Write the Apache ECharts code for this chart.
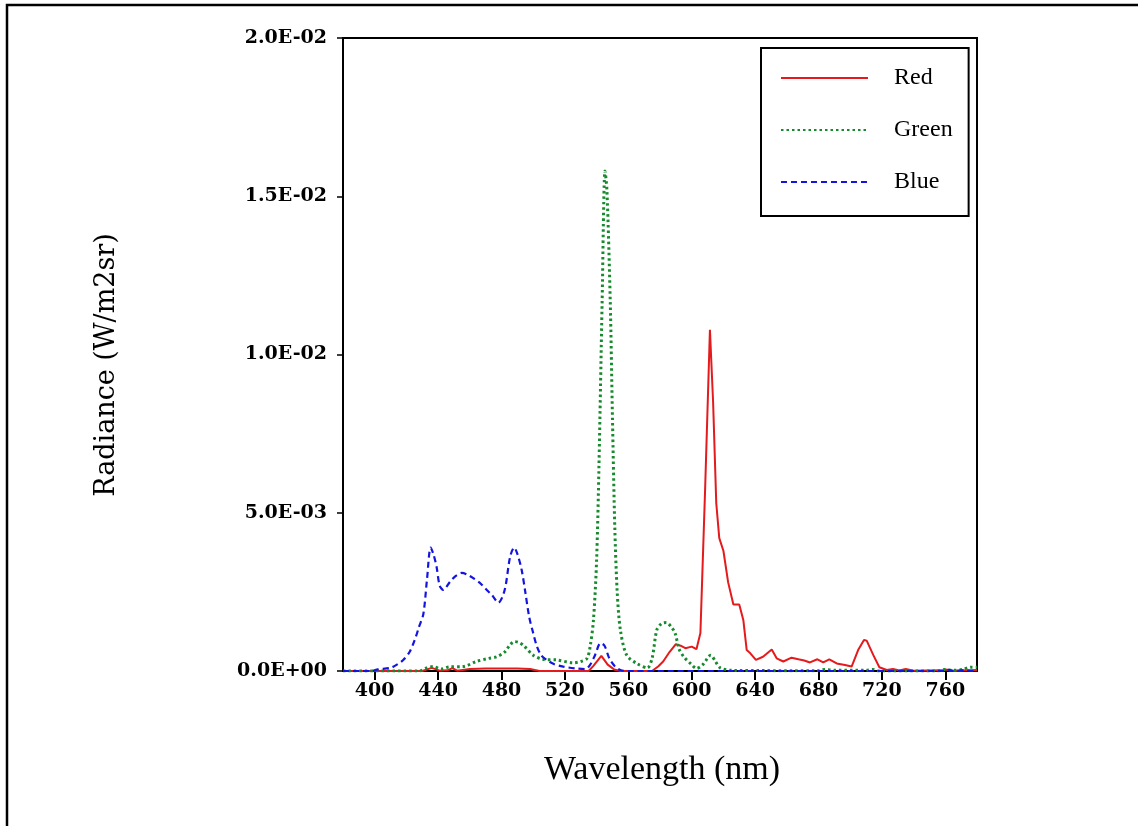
<!DOCTYPE html>
<html>
<head>
<meta charset="utf-8">
<script src="https://cdn.jsdelivr.net/npm/echarts@6/dist/echarts.min.js"></script>
<style>
html,body{margin:0;padding:0;background:#fff;}
#main{width:1138px;height:826px;}
</style>
</head>
<body>
<div id="main"></div>
<script type="text/javascript">
	// 红色通道
	var redX = [380,430,436,441,446,449,452,460,470,490,498,504,535,538,543,547,551,555,575,579,582,586,590,593,596,600,603,605.5,608.5,611.5,613.5,615.5,617.4,620,623,626.3,630,632.6,634.7,637,640.5,645,650.5,653.6,657.8,663,667.3,671,674.6,679.3,683,686.8,691.5,696.7,700.9,705,708.7,710.4,714.6,718.4,723,727,731,735,740,758,760,765,780];
	var redY = [0,0,0.0001,0.00001,0.00002,0.00009,0.00001,0.00006,0.00008,0.00008,0.00006,0,0,0.00016,0.00048,0.0002,0.00005,0,0,0.00015,0.0003,0.0006,0.00085,0.0008,0.00072,0.00077,0.00069,0.0012,0.0058,0.01078,0.0085,0.0053,0.0042,0.0038,0.0028,0.0021,0.0021,0.0016,0.00066,0.00056,0.00035,0.00045,0.00068,0.0004,0.0003,0.00042,0.00037,0.00033,0.00027,0.00037,0.00027,0.00037,0.00024,0.00019,0.00014,0.00066,0.00098,0.00096,0.0005,0.00012,0.00003,0.00006,0.00002,0.00006,0.00001,0.00002,0.00005,0.00001,0.00003];

	// 绿色通道
	var greenX = [380,428,433,437,442,447,456,464,472,477,482,485,488,491,494,500,506,515,525,530,534,536,538,540,541.5,543.5,545.3,546.5,548.6,550,551.5,553,555,559,565.6,572,575,578,581,584,587,589.5,592,595,600,603,607,612,615,618,625,680,684,690,710,714,718,755,760,765,771,776,780];
	var greenY = [0,0,0.0001,0.00014,0.00006,0.00013,0.00014,0.0003,0.0004,0.00045,0.0006,0.0008,0.00093,0.0009,0.0008,0.0005,0.00037,0.00035,0.00026,0.0003,0.0004,0.0008,0.0016,0.0035,0.0065,0.0117,0.0158,0.0152,0.0117,0.0080,0.0045,0.0025,0.0013,0.0005,0.00023,0.0001,0.0004,0.0013,0.0015,0.00153,0.0014,0.0012,0.0007,0.00045,0.0002,0.00008,0.0002,0.0005,0.0003,0.0001,0.00002,0.00001,0.00005,0.00002,0.00002,0.00005,0,0,0.00005,0.00002,0.00005,0.00012,0.00012];

	// 蓝色通道
	var blueX = [380,398,402,410,414,418,422,425.4,428,430.7,433,435.3,437,439,441,443.3,447.5,451,455,459,462.3,466,470.7,474,478,482,485.4,488,490,492.7,495,497.5,500,502.2,505,508.5,513,519,527,533,536,539,542.5,545,548,551.5,555,560,760,762,765,773,776,780];
	var blueY = [0,0,0.00005,0.0001,0.0002,0.00035,0.0006,0.001,0.0014,0.0018,0.0029,0.0039,0.0037,0.0033,0.0027,0.00256,0.00282,0.003,0.0031,0.00303,0.00293,0.0028,0.00256,0.0024,0.00216,0.00256,0.0036,0.0039,0.0037,0.0032,0.0025,0.0017,0.0012,0.0008,0.0005,0.00035,0.00022,0.00014,0.00008,0.00006,0.0002,0.0005,0.00088,0.0008,0.0004,0.00015,0.00003,0,0,0.00004,0,0.00003,0,0];

	// 刻度
	var xTicks = [400,440,480,520,560,600,640,680,720,760];
	var yTickLabels = ['0.0E+00','5.0E-03','1.0E-02','1.5E-02','2.0E-02'];

	function zip(xs,ys){
		return xs.map(function(x,i){return [x,ys[i]];});
	}

	var myChart = echarts.init(document.getElementById('main'));

	var option = {
		animation:false,
		backgroundColor:'#fff',
		grid:{
			left:343,top:38,right:161,bottom:155,
			show:true,borderColor:'#000',borderWidth:2,backgroundColor:'transparent'
		},
		legend:{
			orient:'vertical',
			left:761,top:48,
			padding:[18,16,22,19],
			borderColor:'#000',borderWidth:2,
			itemWidth:87,itemHeight:14,itemGap:28,
			itemStyle:{opacity:0},
			data:['Red','Green','Blue'],
			textStyle:{fontFamily:'Liberation Serif',fontSize:24,color:'#000',padding:[0,0,0,21]}
		},
		xAxis:{
			type:'value',min:380,max:780,
			splitLine:{show:false},
			axisLine:{show:true,onZero:false,lineStyle:{color:'#000',width:2}},
			axisTick:{show:true,length:9,lineStyle:{color:'#000',width:2},customValues:xTicks},
			axisLabel:{margin:11,fontFamily:'DejaVu Serif',fontWeight:'bold',fontSize:19,color:'#000',customValues:xTicks}
		},
		yAxis:{
			type:'value',min:0,max:0.02,interval:0.005,
			splitLine:{show:false},
			axisLine:{show:true,lineStyle:{color:'#000',width:2}},
			axisTick:{show:true,length:6,lineStyle:{color:'#000',width:1.5}},
			axisLabel:{
				margin:16,fontFamily:'DejaVu Serif',fontWeight:'bold',fontSize:19,color:'#000',
				formatter:function(v){return yTickLabels[Math.round(v/0.005)];}
			}
		},
		series:[
			{
				name:'Red',type:'line',symbol:'none',data:zip(redX,redY),
				lineStyle:{color:'#e41a1c',width:2},itemStyle:{color:'#e41a1c'}
			},
			{
				name:'Green',type:'line',symbol:'none',smooth:0.3,data:zip(greenX,greenY),
				lineStyle:{color:'#168a2c',width:3,type:[2.5,3]},itemStyle:{color:'#168a2c'}
			},
			{
				name:'Blue',type:'line',symbol:'none',smooth:0.3,data:zip(blueX,blueY),
				lineStyle:{color:'#1414e0',width:2.2,type:[6,4]},itemStyle:{color:'#1414e0'}
			}
		],
		graphic:[
			{
				type:'rect',shape:{x:7,y:5,width:1300,height:1000},
				style:{fill:'none',stroke:'#000',lineWidth:2.5},silent:true
			},
			{
				type:'text',x:662,y:770,
				style:{text:'Wavelength (nm)',font:'34px "Liberation Serif"',fill:'#000',textAlign:'center',textVerticalAlign:'middle'}
			},
			{
				type:'text',x:107,y:365,rotation:Math.PI/2,
				style:{text:'Radiance (W/m2sr)',font:'27px "DejaVu Serif"',fill:'#000',textAlign:'center',textVerticalAlign:'middle'}
			}
		]
	};

	myChart.setOption(option);
</script>
</body>
</html>
